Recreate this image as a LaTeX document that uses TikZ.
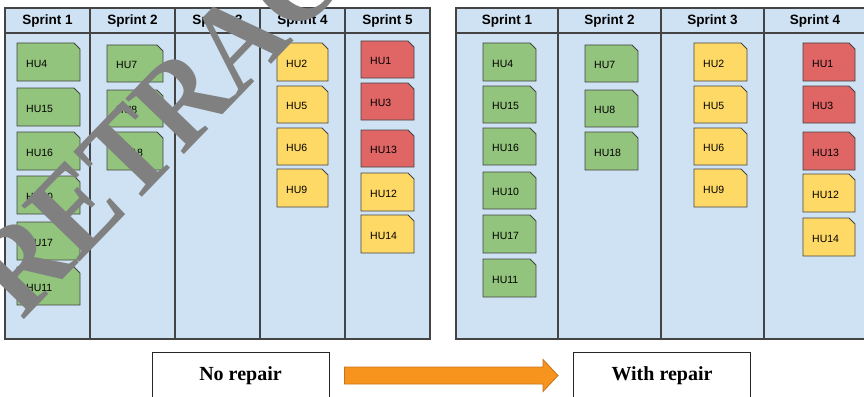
\documentclass[tikz,border=0pt]{standalone}
\usepackage{fontspec}
\setmainfont{Liberation Serif}
\setsansfont{Liberation Sans}
\usetikzlibrary{calc}

\definecolor{boardblue}{HTML}{CFE2F3}
\definecolor{cardgreen}{HTML}{93C47D}
\definecolor{cardyellow}{HTML}{FFD966}
\definecolor{cardred}{HTML}{E06666}
\definecolor{edgegray}{HTML}{444444}
\definecolor{arroworange}{HTML}{F7941D}
\definecolor{arrowedge}{HTML}{C8721A}
\definecolor{stampgray}{HTML}{808080}

\tikzset{
  board/.style={fill=boardblue, draw=edgegray, line width=1.1pt},
  divider/.style={draw=edgegray, line width=1.1pt},
  sprinthead/.style={font=\sffamily\bfseries\fontsize{13.5}{14}\selectfont, inner sep=0pt},
  cardedge/.style={draw=edgegray, line width=0.9pt, line join=miter},
  cardtext/.style={inner xsep=9pt, inner ysep=0pt, align=left,
    font=\sffamily\fontsize{10.5}{12}\selectfont},
  captionbox/.style={draw=black!85, line width=1pt, fill=white,
    minimum width=177pt, minimum height=47pt,
    font=\rmfamily\bfseries\fontsize{20}{22}\selectfont},
  blockarrow/.style={fill=arroworange, draw=arrowedge, line width=0.8pt, line join=miter},
  stamp/.style={text=stampgray, inner sep=0pt,
    font=\rmfamily\bfseries\fontsize{112}{112}\selectfont}
}

% user-story card: name, left x, top y, width, height, fill colour, label
\newcommand\hucard[7]{%
  \path[cardedge, fill=#6] (#2,#3) -- ++(#4-6,0) -- ++(6,6) -- ++(0,#5-6)
    -- ++(-#4,0) -- cycle;
  \pgfmathsetmacro\cardtw{#4-18}%
  \node[cardtext, text width=\cardtw pt, minimum height=#5pt, anchor=north west]
    (#1) at (#2,#3+1.5) {#7};%
}

\begin{document}
\begin{tikzpicture}[x=1pt, y=-1pt]
\useasboundingbox (0,0) rectangle (864,396);
\clip (0,0) rectangle (864,396);

% ---------- board without repair ----------
\draw[board] (5,8) rectangle (430,339);
\draw[divider] (5,33) -- (430,33);
\foreach \x in {90,175,260,345} \draw[divider] (\x,8) -- (\x,339);
\foreach \c/\x in {1/47.5,2/132.5,3/217.5,4/302.5,5/387.5}
  \node[sprinthead] (a-s\c) at (\x,21) {Sprint \c};

\hucard{a-hu4}{17}{43}{63}{38}{cardgreen}{HU4}
\hucard{a-hu15}{17}{88}{63}{38}{cardgreen}{HU15}
\hucard{a-hu16}{17}{132}{63}{38}{cardgreen}{HU16}
\hucard{a-hu10}{17}{176}{63}{38}{cardgreen}{HU10}
\hucard{a-hu17}{17}{222}{63}{38}{cardgreen}{HU17}
\hucard{a-hu11}{17}{267}{63}{38}{cardgreen}{HU11}

\hucard{a-hu7}{107}{45}{56}{37}{cardgreen}{HU7}
\hucard{a-hu8}{107}{90}{56}{37}{cardgreen}{HU8}
\hucard{a-hu18}{107}{132}{56}{38}{cardgreen}{HU18}

\hucard{a-hu2}{277}{43}{51}{38}{cardyellow}{HU2}
\hucard{a-hu5}{277}{86}{51}{37}{cardyellow}{HU5}
\hucard{a-hu6}{277}{128}{51}{37}{cardyellow}{HU6}
\hucard{a-hu9}{277}{169}{51}{38}{cardyellow}{HU9}

\hucard{a-hu1}{361}{41}{53}{37}{cardred}{HU1}
\hucard{a-hu3}{361}{83}{53}{37}{cardred}{HU3}
\hucard{a-hu13}{361}{130}{53}{37}{cardred}{HU13}
\hucard{a-hu12}{361}{173}{53}{38}{cardyellow}{HU12}
\hucard{a-hu14}{361}{215}{53}{38}{cardyellow}{HU14}

% ---------- board with repair ----------
\draw[board] (456,8) rectangle (868,339);
\draw[divider] (456,33) -- (868,33);
\foreach \x in {558,661,764} \draw[divider] (\x,8) -- (\x,339);
\foreach \c/\x in {1/507,2/609.5,3/712.5,4/815}
  \node[sprinthead] (b-s\c) at (\x,21) {Sprint \c};

\hucard{b-hu4}{483}{43}{53}{38}{cardgreen}{HU4}
\hucard{b-hu15}{483}{86}{53}{37}{cardgreen}{HU15}
\hucard{b-hu16}{483}{128}{53}{37}{cardgreen}{HU16}
\hucard{b-hu10}{483}{172}{53}{37}{cardgreen}{HU10}
\hucard{b-hu17}{483}{215}{53}{38}{cardgreen}{HU17}
\hucard{b-hu11}{483}{259}{53}{38}{cardgreen}{HU11}

\hucard{b-hu7}{585}{45}{53}{37}{cardgreen}{HU7}
\hucard{b-hu8}{585}{90}{53}{37}{cardgreen}{HU8}
\hucard{b-hu18}{585}{132}{53}{38}{cardgreen}{HU18}

\hucard{b-hu2}{694}{43}{53}{38}{cardyellow}{HU2}
\hucard{b-hu5}{694}{86}{53}{37}{cardyellow}{HU5}
\hucard{b-hu6}{694}{128}{53}{37}{cardyellow}{HU6}
\hucard{b-hu9}{694}{169}{53}{38}{cardyellow}{HU9}

\hucard{b-hu1}{803}{43}{52}{38}{cardred}{HU1}
\hucard{b-hu3}{803}{86}{52}{37}{cardred}{HU3}
\hucard{b-hu13}{803}{132}{52}{38}{cardred}{HU13}
\hucard{b-hu12}{803}{174}{52}{38}{cardyellow}{HU12}
\hucard{b-hu14}{803}{218}{52}{38}{cardyellow}{HU14}

% ---------- captions and block arrow ----------
\node[captionbox] (norepair) at (240.5,375.5) {No repair};
\node[captionbox] (withrepair) at (662,375.5) {With repair};
\draw[blockarrow] let \p1=($(norepair.east)+(15,0)$), \p2=($(withrepair.west)+(-15,0)$) in
  (\x1,\y1+8.5pt) -- (\x2-15pt,\y1+8.5pt) -- (\x2-15pt,\y1+16pt)
    -- (\x2,\y1) -- (\x2-15pt,\y1-16pt) -- (\x2-15pt,\y1-8.5pt)
    -- (\x1,\y1-8.5pt) -- cycle;

% ---------- stamp across the page (letters slightly stretched upward) ----------
\node[stamp, rotate=46, anchor=base west] (stampmark) at (22,322)
  {\scalebox{1}[1.1]{RETRACTED}};
\end{tikzpicture}
\end{document}
